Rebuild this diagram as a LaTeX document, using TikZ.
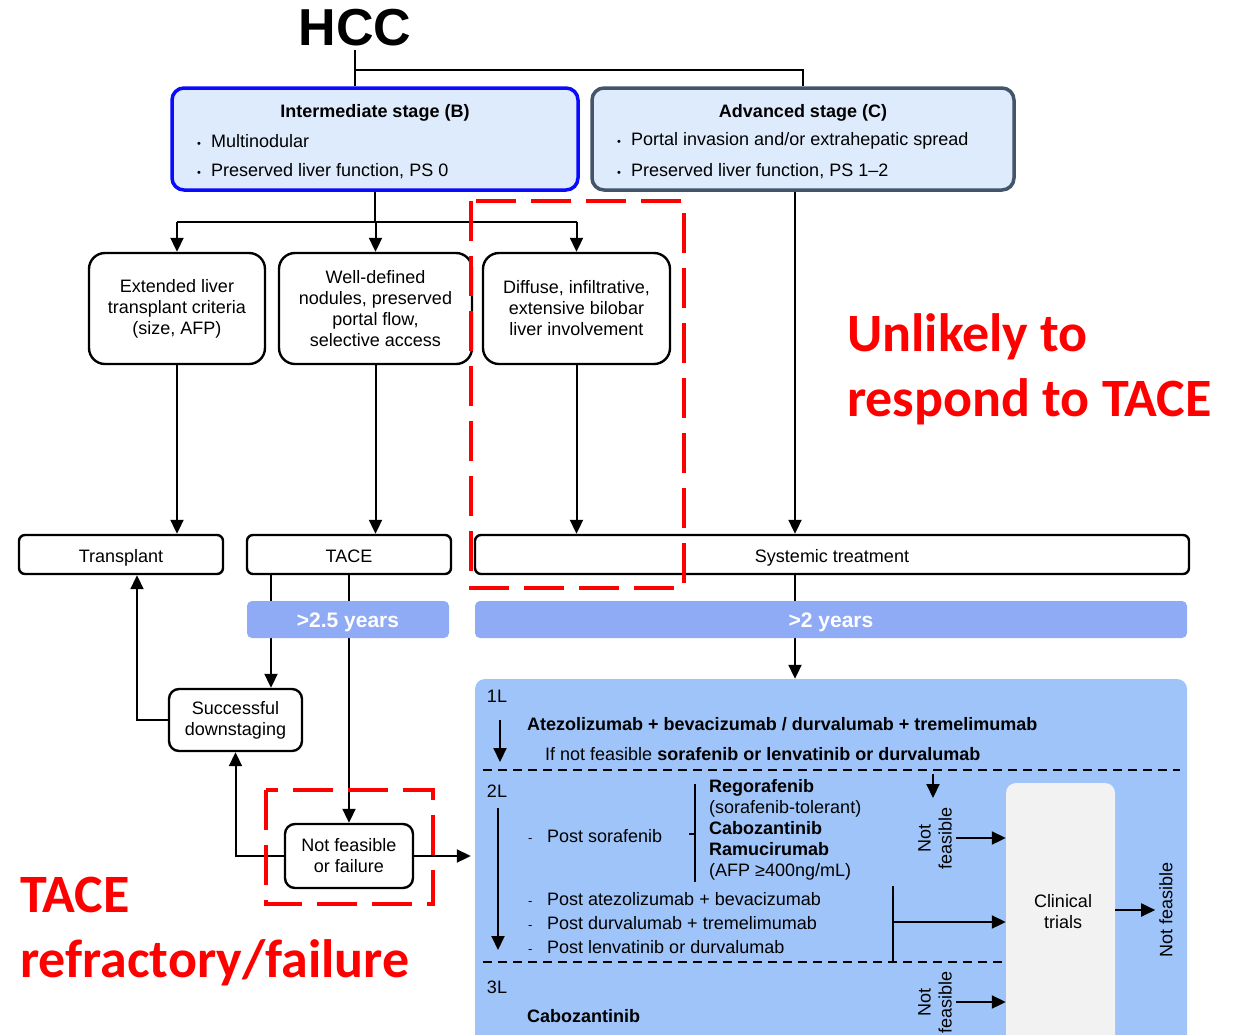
\documentclass[tikz,border=0pt]{standalone}
\usepackage{fontspec}
\setmainfont{Liberation Sans}
\newfontfamily\notefont{Carlito}
\usepackage{tikz}
\usetikzlibrary{arrows.meta}
\definecolor{stageblue}{HTML}{0A0AFF}
\definecolor{stagegrey}{HTML}{44546A}
\definecolor{stagefill}{HTML}{DEEBFC}
\definecolor{barcolor}{HTML}{8FABF5}
\definecolor{treatfill}{HTML}{9FC4F9}
\definecolor{trialfill}{HTML}{F2F2F2}
\definecolor{alertred}{HTML}{FF0000}
\newcommand{\bul}{\makebox[14pt][l]{\fontsize{11}{11}\selectfont\textbullet}}
\newcommand{\dashitem}{\makebox[19pt][l]{\fontsize{13}{13}\selectfont -}}

\begin{document}
\begin{tikzpicture}[x=1pt, y=-1pt,
        every node/.style={font=\fontsize{18}{21}\selectfont, inner sep=0pt},
        stage/.style={rounded corners=12pt, line width=3.5pt, fill=stagefill, minimum height=102pt},
        choice/.style={draw, rounded corners=16pt, line width=2.4pt, align=center, minimum height=111pt},
        therapy/.style={draw, rounded corners=6pt, line width=2.4pt, minimum height=39pt},
        oneline/.style={text height=16pt, text depth=0pt},
        yearbar/.style={fill=barcolor, rounded corners=5pt, minimum height=37pt},
        yeartext/.style={text=white, font=\fontsize{21}{24}\selectfont\bfseries},
        link/.style={line width=2pt},
        arr/.style={line width=2pt, -{Triangle[length=14pt,width=13pt]}},
        separator/.style={line width=2pt, dash pattern=on 9pt off 6pt},
        redframe/.style={draw=alertred, line width=4.5pt, dash pattern=on 40pt off 15pt},
        note/.style={anchor=west, align=left, text=alertred, font=\notefont\fontsize{54}{65}\selectfont\bfseries}
    ]
        \clip (0,0) rectangle (1242,1034);

        \node[font=\fontsize{52}{56}\selectfont\bfseries, inner sep=3pt] (hcc) at (355,28) {HCC};

        \node[stage, draw=stageblue, minimum width=406pt] (boxB) at (375,139) {};
        \node[stage, draw=stagegrey, minimum width=422pt] (boxC) at (803,139) {};
        \node[font=\fontsize{18}{21}\selectfont\bfseries] (titleB) at (375,113) {Intermediate stage (B)};
        \node[anchor=west] (bulletB1) at (197,141) {\bul Multinodular};
        \node[anchor=west] (bulletB2) at (197,171) {\bul Preserved liver function, PS 0};
        \node[font=\fontsize{18}{21}\selectfont\bfseries] (titleC) at (803,113) {Advanced stage (C)};
        \node[anchor=west] (bulletC1) at (617,141) {\bul Portal invasion and/or extrahepatic spread};
        \node[anchor=west] (bulletC2) at (617,171) {\bul Preserved liver function, PS 1--2};

        \node[choice, minimum width=176pt] (ext) at (177,308.5) {Extended liver\\transplant criteria\\(size, AFP)};
        \node[choice, minimum width=193pt] (well) at (375.5,308.5) {Well-defined\\nodules, preserved\\portal flow,\\selective access};
        \node[choice, minimum width=187pt] (diffuse) at (576.5,308.5) {Diffuse, infiltrative,\\extensive bilobar\\liver involvement};

        \node[therapy, oneline, minimum width=204pt] (transplant) at (121,554.5) {Transplant};
        \node[therapy, oneline, minimum width=204pt] (tace) at (349,554.5) {TACE};
        \node[therapy, oneline, minimum width=714pt] (systemic) at (832,554.5) {Systemic treatment};

        \node[therapy, rounded corners=10pt, align=center, minimum width=133pt, minimum height=62pt] (succ) at (235.5,720) {Successful\\downstaging};
        \node[therapy, rounded corners=10pt, align=center, minimum width=128pt, minimum height=64pt] (notfeas) at (349,856) {Not feasible\\or failure};

        \node[fill=treatfill, rounded corners=10pt, minimum width=712pt, minimum height=374pt] (treat) at (831,866) {};
        \node[fill=trialfill, rounded corners=10pt, minimum width=109pt, minimum height=270pt] (clinical) at (1060.5,918) {};
        \node[align=center] (trials) at (1063,912) {Clinical\\trials};

        \coordinate (fork) at (355,70);
        \draw[link] (hcc) -- (hcc |- boxB.north);
        \draw[link] (fork) -| (boxC.north);

        \coordinate (split) at (375,222);
        \draw[link] (boxB) -- (split);
        \draw[link] (split -| ext) -- (split -| diffuse);
        \foreach \n in {ext,well,diffuse}
            \draw[arr] (split -| \n) -- (\n);

        \draw[arr] (ext) -- (ext |- transplant.north);
        \draw[arr] (well) -- (well |- tace.north);
        \draw[arr] (diffuse) -- (diffuse |- systemic.north);
        \coordinate (cdrop) at ([xshift=-8pt]boxC.south);
        \draw[arr] (cdrop) -- (cdrop |- systemic.north);
        \draw[arr] (cdrop |- systemic.south) -- (cdrop |- treat.north);

        \coordinate (tdrop) at ([xshift=-78pt]tace.south);
        \coordinate (tup) at ([xshift=16pt]transplant.south);
        \draw[arr] (tdrop) -- (tdrop |- succ.north);
        \draw[arr] (tace) -- (notfeas);
        \draw[arr] (succ.west) -| (tup);
        \draw[arr] (notfeas.west) -| (succ.south);
        \draw[arr] (notfeas.east) -- ([xshift=-4pt]notfeas.east -| treat.west);

        \node[yearbar, minimum width=202pt] (bar1) at (348,619.5) {};
        \node[yearbar, minimum width=712pt] (bar2) at (831,619.5) {};
        \node[yeartext] (years1) at (348,622) {>2.5 years};
        \node[yeartext] (years2) at (831,622) {>2 years};

        \node (first) at (497,696) {1L};
        \node (second) at (497,791) {2L};
        \node (third) at (497,987) {3L};
        \node[anchor=west, font=\fontsize{18}{21}\selectfont\bfseries] (firstdrug) at (527,724) {Atezolizumab + bevacizumab / durvalumab + tremelimumab};
        \node[anchor=west] (firstalt) at (545,754) {If not feasible \textbf{sorafenib or lenvatinib or durvalumab}};
        \node[anchor=west] (postsor) at (528,836) {\dashitem Post sorafenib};
        \node[anchor=west, align=left] (seconddrug) at (709,830) {\textbf{Regorafenib}\\(sorafenib-tolerant)\\\textbf{Cabozantinib}\\\textbf{Ramucirumab}\\(AFP ≥400ng/mL)};
        \foreach \i/\y/\txt in {1/899/Post atezolizumab + bevacizumab,2/923/Post durvalumab + tremelimumab,3/947/Post lenvatinib or durvalumab}
            \node[anchor=west] (post\i) at (528,\y) {\dashitem \txt};
        \node[anchor=west, font=\fontsize{18}{21}\selectfont\bfseries] (thirddrug) at (527,1016) {Cabozantinib};

        \coordinate (sepone) at (483,770);
        \coordinate (septwo) at (483,962);
        \draw[separator] (sepone) -- (1180,770);
        \draw[separator] (septwo) -- (septwo -| clinical.west);

        \coordinate (lineonetop) at (500,720);
        \coordinate (lineonebot) at (500,762);
        \coordinate (linetwotop) at (498,808);
        \coordinate (linetwobot) at (498,950);
        \draw[arr] (lineonetop) -- (lineonebot);
        \draw[arr] (linetwotop) -- (linetwobot);

        \coordinate (bracetop) at (695,784);
        \coordinate (bracebot) at (695,882);
        \draw[line width=2.4pt] (bracetop) -- (bracebot);
        \draw[line width=2.4pt] (689,834) -- (695,834);
        \coordinate (groupbrace) at (893,922);
        \draw[line width=2.4pt] (893,886) -- (893,961);
        \draw[arr] (groupbrace) -- (groupbrace -| clinical.west);

        \coordinate (dropin) at (933,774);
        \draw[arr] (dropin) -- (933,798);

        \node[rotate=90, align=center] (nfone) at (935,838) {Not\\feasible};
        \node[rotate=90, align=center] (nfthree) at (935,1002) {Not\\feasible};
        \node[rotate=90] (nfright) at (1166,910) {Not feasible};
        \draw[arr] ([xshift=4pt]nfone.south) -- (nfone.south -| clinical.west);
        \draw[arr] ([xshift=4pt]nfthree.south) -- (nfthree.south -| clinical.west);
        \draw[arr] (clinical.east |- nfright.north) -- ([xshift=-4pt]nfright.north);

        \draw[redframe] (471,201) rectangle (684,588);
        \draw[redframe] (266,790) rectangle (433,904);

        \node[note] (unlikely) at (847,369) {Unlikely to\\respond to TACE};
        \node[note] (refractory) at (20,932) {TACE\\refractory/failure};
    \end{tikzpicture}
\end{document}
